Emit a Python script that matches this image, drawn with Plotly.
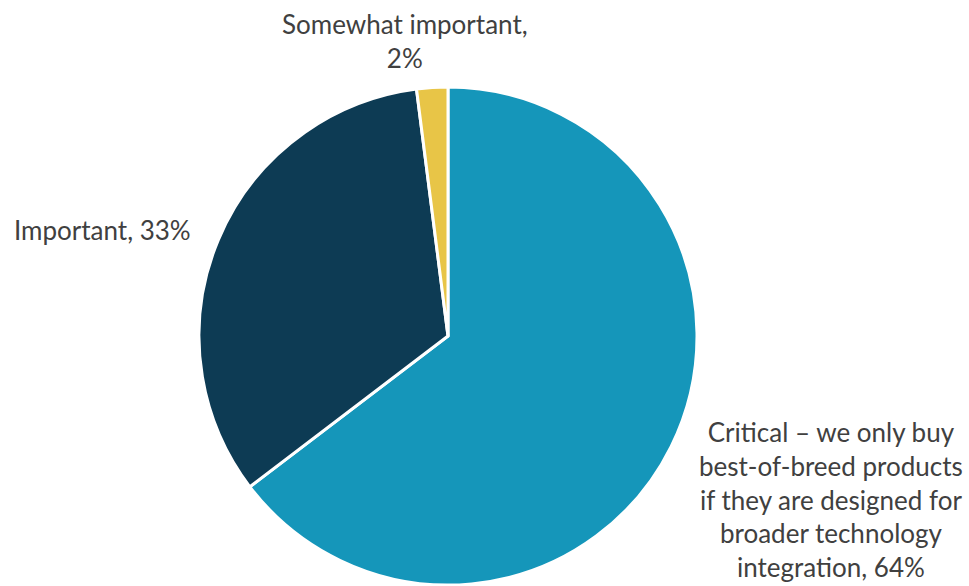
import plotly.graph_objects as go

labels = ["Critical – we only buy best-of-breed products if they are designed for broader technology integration",
          "Important", "Somewhat important"]
values = [64, 33, 2]
colors = ["#1596BA", "#0D3B54", "#E8C547"]
label_text = ["Critical – we only buy<br>best-of-breed products<br>if they are designed for<br>broader technology<br>integration, {}%",
              "Important, {}%",
              "Somewhat important,<br>{}%"]

W, H = 969, 586
cx, cy, r = 448, 336, 249

fig = go.Figure(go.Pie(
    labels=labels, values=values, sort=False, direction="clockwise", rotation=0,
    marker=dict(colors=colors, line=dict(color="white", width=3)),
    textinfo="none", hoverinfo="label+percent", showlegend=False,
    domain=dict(x=[(cx - r) / W, (cx + r) / W], y=[1 - (cy + r) / H, 1 - (cy - r) / H]),
))

font = dict(family="Lato, Source Sans Pro, sans-serif", size=26, color="#404040")
pos = [(831, 499, "center", "middle"), (12, 230, "left", "middle"), (405, 41, "center", "middle")]
for t, v, (x, y, xa, ya) in zip(label_text, values, pos):
    fig.add_annotation(text=t.format(v), x=x / W, y=1 - y / H, xref="paper", yref="paper",
                       xanchor=xa, yanchor=ya, showarrow=False, font=font, align="center")

fig.update_layout(width=W, height=H, margin=dict(l=0, r=0, t=0, b=0),
                  paper_bgcolor="white", plot_bgcolor="white")
fig.write_html("out.html")
